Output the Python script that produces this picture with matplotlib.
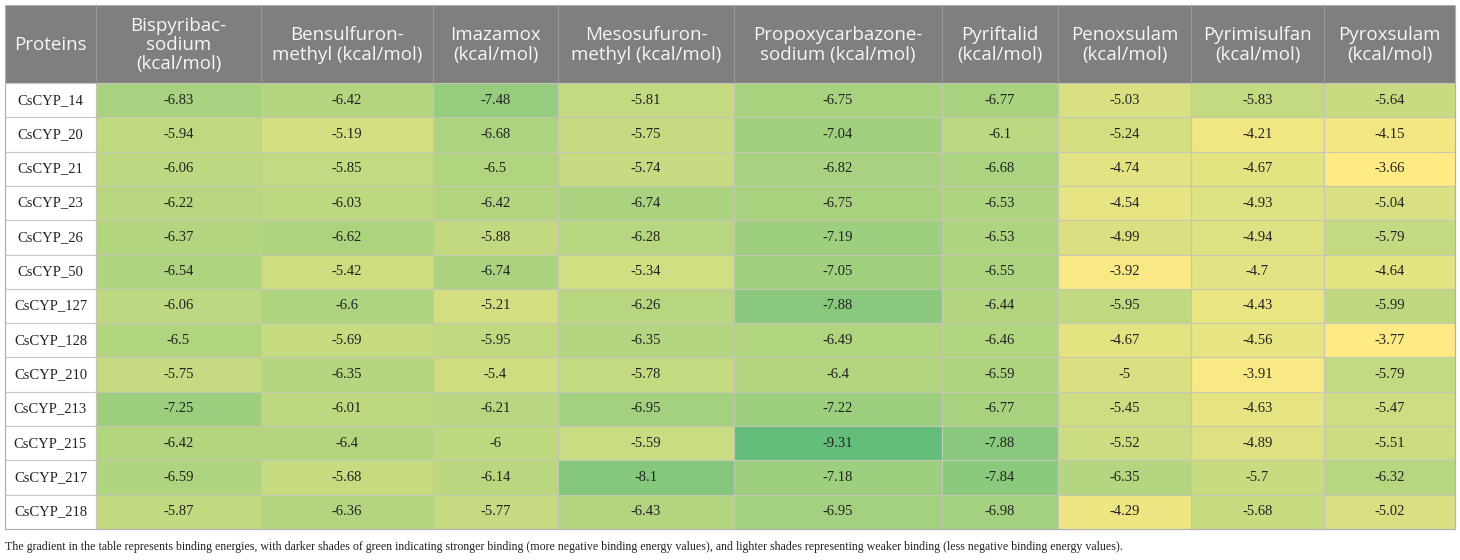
import numpy as np
import matplotlib
matplotlib.use("Agg")
import matplotlib.pyplot as plt
from matplotlib.patches import Rectangle
from matplotlib.colors import LinearSegmentedColormap, Normalize

# table content
proteins = ["CsCYP_14", "CsCYP_20", "CsCYP_21", "CsCYP_23", "CsCYP_26", "CsCYP_50",
            "CsCYP_127", "CsCYP_128", "CsCYP_210", "CsCYP_213", "CsCYP_215",
            "CsCYP_217", "CsCYP_218"]

headers = ["Proteins",
           "Bispyribac-\nsodium\n(kcal/mol)",
           "Bensulfuron-\nmethyl (kcal/mol)",
           "Imazamox\n(kcal/mol)",
           "Mesosufuron-\nmethyl (kcal/mol)",
           "Propoxycarbazone-\nsodium (kcal/mol)",
           "Pyriftalid\n(kcal/mol)",
           "Penoxsulam\n(kcal/mol)",
           "Pyrimisulfan\n(kcal/mol)",
           "Pyroxsulam\n(kcal/mol)"]

energies = [
    ["-6.83", "-6.42", "-7.48", "-5.81", "-6.75", "-6.77", "-5.03", "-5.83", "-5.64"],
    ["-5.94", "-5.19", "-6.68", "-5.75", "-7.04", "-6.1", "-5.24", "-4.21", "-4.15"],
    ["-6.06", "-5.85", "-6.5", "-5.74", "-6.82", "-6.68", "-4.74", "-4.67", "-3.66"],
    ["-6.22", "-6.03", "-6.42", "-6.74", "-6.75", "-6.53", "-4.54", "-4.93", "-5.04"],
    ["-6.37", "-6.62", "-5.88", "-6.28", "-7.19", "-6.53", "-4.99", "-4.94", "-5.79"],
    ["-6.54", "-5.42", "-6.74", "-5.34", "-7.05", "-6.55", "-3.92", "-4.7", "-4.64"],
    ["-6.06", "-6.6", "-5.21", "-6.26", "-7.88", "-6.44", "-5.95", "-4.43", "-5.99"],
    ["-6.5", "-5.69", "-5.95", "-6.35", "-6.49", "-6.46", "-4.67", "-4.56", "-3.77"],
    ["-5.75", "-6.35", "-5.4", "-5.78", "-6.4", "-6.59", "-5", "-3.91", "-5.79"],
    ["-7.25", "-6.01", "-6.21", "-6.95", "-7.22", "-6.77", "-5.45", "-4.63", "-5.47"],
    ["-6.42", "-6.4", "-6", "-5.59", "-9.31", "-7.88", "-5.52", "-4.89", "-5.51"],
    ["-6.59", "-5.68", "-6.14", "-8.1", "-7.18", "-7.84", "-6.35", "-5.7", "-6.32"],
    ["-5.87", "-6.36", "-5.77", "-6.43", "-6.95", "-6.98", "-4.29", "-5.68", "-5.02"],
]

caption = ("The gradient in the table represents binding energies, with darker shades of green "
           "indicating stronger binding (more negative binding energy values), and lighter shades "
           "representing weaker binding (less negative binding energy values).")

# layout in pixels
W, H = 1460, 560
col_edges = [5, 96, 261, 433, 558, 734, 942, 1058, 1191, 1324, 1455]
head_top, head_bot = 5, 83
row_h = 34.3

vals = np.array(energies, dtype=float)
cmap = LinearSegmentedColormap.from_list("gy", ["#63be7b", "#ffeb84"])
norm = Normalize(vmin=vals.min(), vmax=vals.max())

fig = plt.figure(figsize=(W / 100, H / 100), dpi=100)
ax = fig.add_axes([0, 0, 1, 1])
ax.set_xlim(0, W)
ax.set_ylim(H, 0)
ax.axis("off")

# header
ax.add_patch(Rectangle((col_edges[0], head_top), col_edges[-1] - col_edges[0],
                       head_bot - head_top, facecolor="#7f7f7f", edgecolor="none"))
for j, h in enumerate(headers):
    x0, x1 = col_edges[j], col_edges[j + 1]
    ax.text((x0 + x1) / 2, (head_top + head_bot) / 2 + 1, h, ha="center", va="center",
            color="#f6f6f6", fontsize=13.5, family="Open Sans", linespacing=1.1)
    if j > 0:
        ax.plot([x0, x0], [head_top, head_bot], color="#9a9a9a", lw=0.8)

# body
for i, p in enumerate(proteins):
    y0 = head_bot + i * row_h
    yc = y0 + row_h / 2
    ax.add_patch(Rectangle((col_edges[0], y0), col_edges[1] - col_edges[0], row_h,
                           facecolor="white", edgecolor="#c8c8c8", lw=0.8))
    ax.text((col_edges[0] + col_edges[1]) / 2, yc, p, ha="center", va="center",
            fontsize=10.5, family="Liberation Serif", color="#222222")
    for j in range(vals.shape[1]):
        x0, x1 = col_edges[j + 1], col_edges[j + 2]
        ax.add_patch(Rectangle((x0, y0), x1 - x0, row_h,
                               facecolor=cmap(norm(vals[i, j])), edgecolor="#c6c6b4", lw=0.8))
        ax.text((x0 + x1) / 2, yc, energies[i][j], ha="center", va="center",
                fontsize=10.5, family="Liberation Serif", color="#222222")

table_bot = head_bot + len(proteins) * row_h
ax.add_patch(Rectangle((col_edges[0], head_top), col_edges[-1] - col_edges[0],
                       table_bot - head_top, facecolor="none", edgecolor="#b0b0b0", lw=0.8))

ax.text(col_edges[0], table_bot + 18, caption, ha="left", va="center",
        fontsize=8.6, family="Liberation Serif", color="#222222")

fig.savefig("out.png", dpi=100, facecolor="white")
